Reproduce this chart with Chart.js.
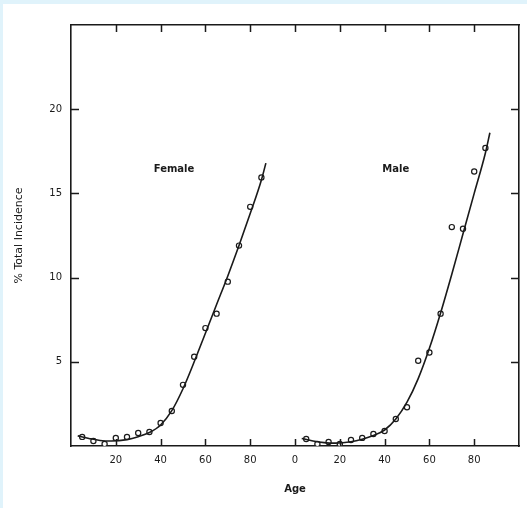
<!DOCTYPE html>
<html>
<head>
<meta charset="utf-8">
<script src="https://cdn.jsdelivr.net/npm/chart.js@4/dist/chart.umd.min.js"></script>
<style>
  html, body { margin: 0; padding: 0; background: #ffffff; }
  #chart { display: block; }
</style>
</head>
<body>
<canvas id="chart" width="527" height="508"></canvas>
<script>
const femaleAges = [5, 10, 15, 20, 25, 30, 35, 40, 45, 50, 55, 60, 65, 70, 75, 80, 85];
const femalePct = [0.54, 0.3, 0.12, 0.48, 0.54, 0.77, 0.83, 1.37, 2.08, 3.63, 5.3, 7.0, 7.86, 9.76, 11.9, 14.2, 15.95];
const maleAges = [5, 10, 15, 20, 25, 30, 35, 40, 45, 50, 55, 60, 65, 70, 75, 80, 85];
const malePct = [0.42, 0.12, 0.24, 0.12, 0.36, 0.48, 0.71, 0.89, 1.6, 2.3, 5.06, 5.55, 7.86, 13.0, 12.9, 16.3, 17.7];

// fitted curves
const femaleCurveAges = [3, 8, 13, 18, 25, 30, 35, 40, 45, 50, 55, 60, 65, 70, 75, 80, 85, 87];
const femaleCurvePct = [0.6, 0.45, 0.33, 0.3, 0.38, 0.55, 0.8, 1.25, 2.1, 3.4, 5.0, 6.7, 8.4, 10.1, 11.9, 13.8, 15.8, 16.8];
const maleCurveAges = [3, 8, 13, 18, 25, 30, 35, 40, 45, 50, 55, 60, 65, 70, 75, 80, 85, 87];
const maleCurvePct = [0.45, 0.3, 0.2, 0.17, 0.25, 0.4, 0.62, 0.95, 1.6, 2.6, 4.0, 5.8, 7.9, 10.2, 12.6, 15.0, 17.4, 18.6];

// both panels share one axis: male ages sit 100 units to the right
const maleOffset = 100;
const xTickValues = [20, 40, 60, 80, 100, 120, 140, 160, 180];
const yTickValues = [5, 10, 15, 20];

function toXY(ages, pct, offset) {
  return ages.map(function (a, i) { return { x: a + offset, y: pct[i] }; });
}

const ink = "#1a1a1a";

// paper background with the light blue margin of the scan
const paperPlugin = {
  id: "paper",
  beforeDraw: function (chart) {
    const ctx = chart.ctx;
    ctx.save();
    ctx.fillStyle = "#e0f3fb";
    ctx.fillRect(0, 0, chart.width, chart.height);
    ctx.fillStyle = "#ffffff";
    ctx.fillRect(3, 4, chart.width - 3, chart.height - 4);
    ctx.restore();
  }
};

// inward tick marks on all four sides plus panel labels
const frameTicksPlugin = {
  id: "frameTicks",
  afterDatasetsDraw: function (chart) {
    const ctx = chart.ctx;
    const a = chart.chartArea;
    const xs = chart.scales.x;
    const ys = chart.scales.y;
    ctx.save();
    ctx.strokeStyle = ink;
    ctx.lineWidth = 1.5;
    ctx.beginPath();
    xTickValues.forEach(function (v) {
      const px = Math.round(xs.getPixelForValue(v)) + 0.5;
      ctx.moveTo(px, a.bottom);
      ctx.lineTo(px, a.bottom - 7);
      ctx.moveTo(px, a.top);
      ctx.lineTo(px, a.top + 7);
    });
    yTickValues.forEach(function (v) {
      const py = Math.round(ys.getPixelForValue(v)) + 0.5;
      ctx.moveTo(a.left, py);
      ctx.lineTo(a.left + 8, py);
      ctx.moveTo(a.right, py);
      ctx.lineTo(a.right - 8, py);
    });
    ctx.stroke();

    ctx.fillStyle = ink;
    ctx.font = "bold 10px 'DejaVu Sans'";
    ctx.textAlign = "center";
    ctx.textBaseline = "middle";
    ctx.fillText("Female", xs.getPixelForValue(46), ys.getPixelForValue(16.4));
    ctx.fillText("Male", xs.getPixelForValue(145), ys.getPixelForValue(16.4));
    ctx.restore();
  }
};

const pointStyle = {
  showLine: false,
  pointStyle: "circle",
  pointRadius: 2.6,
  pointBorderWidth: 1.2,
  pointBorderColor: ink,
  pointBackgroundColor: "#ffffff"
};

const curveStyle = {
  showLine: true,
  borderColor: ink,
  borderWidth: 1.6,
  pointRadius: 0,
  cubicInterpolationMode: "monotone"
};

new Chart(document.getElementById("chart"), {
  type: "scatter",
  data: {
    datasets: [
      Object.assign({ label: "Female fit", data: toXY(femaleCurveAges, femaleCurvePct, 0) }, curveStyle),
      Object.assign({ label: "Male fit", data: toXY(maleCurveAges, maleCurvePct, maleOffset) }, curveStyle),
      Object.assign({ label: "Female", data: toXY(femaleAges, femalePct, 0) }, pointStyle),
      Object.assign({ label: "Male", data: toXY(maleAges, malePct, maleOffset) }, pointStyle)
    ]
  },
  options: {
    responsive: false,
    animation: false,
    layout: { padding: 0 },
    plugins: {
      legend: { display: false },
      tooltip: { enabled: false }
    },
    scales: {
      x: {
        type: "linear",
        position: "bottom",
        min: 0,
        max: 200,
        afterFit: function (scale) { scale.height = 62; },
        afterBuildTicks: function (scale) {
          scale.ticks = xTickValues.map(function (v) { return { value: v }; });
        },
        ticks: {
          color: ink,
          padding: 8,
          maxRotation: 0,
          autoSkip: false,
          font: { family: "'DejaVu Sans'", size: 10 },
          callback: function (v) { return v >= maleOffset ? String(v - maleOffset) : String(v); }
        },
        grid: { display: false, drawTicks: false },
        border: { display: true, color: ink, width: 1.6 },
        title: {
          display: true,
          text: "Age",
          color: ink,
          padding: { top: 0, bottom: 13 },
          font: { family: "'DejaVu Sans'", size: 10, weight: "bold" }
        }
      },
      x2: {
        type: "linear",
        position: "top",
        min: 0,
        max: 200,
        afterFit: function (scale) { scale.height = 25; },
        ticks: { display: false },
        grid: { display: false, drawTicks: false },
        border: { display: true, color: ink, width: 1.6 }
      },
      y: {
        type: "linear",
        position: "left",
        min: 0,
        max: 25,
        afterFit: function (scale) { scale.width = 71; },
        afterBuildTicks: function (scale) {
          scale.ticks = yTickValues.map(function (v) { return { value: v }; });
        },
        ticks: {
          color: ink,
          padding: 9,
          font: { family: "'DejaVu Sans'", size: 10 }
        },
        grid: { display: false, drawTicks: false },
        border: { display: true, color: ink, width: 1.6 },
        title: {
          display: true,
          text: "% Total Incidence",
          color: ink,
          padding: { top: 13, bottom: 0 },
          font: { family: "'DejaVu Sans'", size: 11 }
        }
      },
      y2: {
        type: "linear",
        position: "right",
        min: 0,
        max: 25,
        afterFit: function (scale) { scale.width = 8; },
        ticks: { display: false },
        grid: { display: false, drawTicks: false },
        border: { display: true, color: ink, width: 1.6 }
      }
    }
  },
  plugins: [paperPlugin, frameTicksPlugin]
});
</script>
</body>
</html>
